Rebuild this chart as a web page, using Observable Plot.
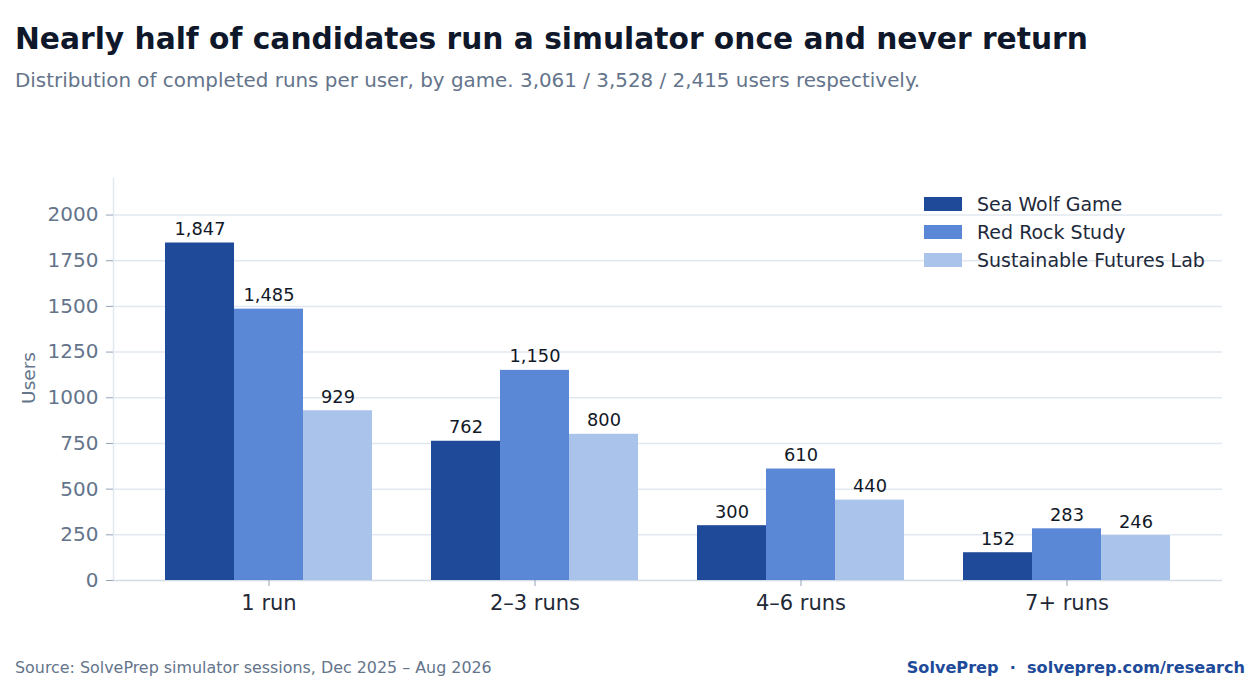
<!DOCTYPE html>
<html><head><meta charset="utf-8">
<script src="https://cdn.jsdelivr.net/npm/d3@7"></script>
<script src="https://cdn.jsdelivr.net/npm/@observablehq/plot@0.6"></script>
<style>
body{margin:0;background:#fff;font-family:"DejaVu Sans",sans-serif;}
#wrap{position:relative;width:1260px;height:690px;overflow:hidden;}
#title{position:absolute;left:15px;top:21px;font-size:29.7px;font-weight:bold;color:#0f172a;white-space:nowrap;}
#subtitle{position:absolute;left:15px;top:69px;font-size:19.9px;color:#64748b;white-space:nowrap;}
#bg,#chart{position:absolute;left:0;top:150px;}
#ylabel{position:absolute;left:28px;top:378px;font-size:18.5px;color:#64748b;transform:translate(-50%,-50%) rotate(-90deg);white-space:nowrap;}
#legend{position:absolute;left:924px;top:190px;}
.row{display:flex;align-items:center;height:28px;}
.sw{width:38px;height:14px;margin-right:15px;}
.lt{font-size:19px;color:#1e293b;white-space:nowrap;}
#src{position:absolute;left:15px;top:658px;font-size:15.9px;color:#64748b;white-space:nowrap;}
#brand{position:absolute;right:15px;top:658px;font-size:16.1px;font-weight:bold;color:#1e4a9a;white-space:pre;}
</style></head><body>
<div id="wrap">
<div id="title">Nearly half of candidates run a simulator once and never return</div>
<div id="subtitle">Distribution of completed runs per user, by game. 3,061 / 3,528 / 2,415 users respectively.</div>
<div id="bg"></div>
<div id="chart"></div>
<div id="ylabel">Users</div>
<div id="legend"></div>
<div id="src">Source: SolvePrep simulator sessions, Dec 2025 – Aug 2026</div>
<div id="brand">SolvePrep  ·  solveprep.com/research</div>
</div>
<script>
const groups = ["1 run", "2–3 runs", "4–6 runs", "7+ runs"];
const series = ["Sea Wolf Game", "Red Rock Study", "Sustainable Futures Lab"];
const seaWolf = [1847, 762, 300, 152];
const redRock = [1485, 1150, 610, 283];
const sustainable = [929, 800, 440, 246];
const colors = ["#1f4a9a", "#5b88d6", "#a9c3ea"];
const yTicks = [0, 250, 500, 750, 1000, 1250, 1500, 1750, 2000];

const seriesValues = [seaWolf, redRock, sustainable];
const data = groups.flatMap((g, i) => series.map((s, j) => ({group: g, series: s, value: seriesValues[j][i]})));

const dims = {width: 1260, height: 480, marginLeft: 113, marginRight: 38, marginTop: 28, marginBottom: 50};
const yScale = {domain: [0, 2200], axis: null};

// Background: y axis, grid, baseline
const bg = Plot.plot({
  ...dims,
  style: {fontFamily: "DejaVu Sans", background: "transparent", overflow: "visible"},
  y: yScale,
  marks: [
    Plot.ruleY(yTicks.slice(1), {stroke: "#e2e8f0", strokeWidth: 1.5}),
    Plot.frame({anchor: "left", stroke: "#e2e8f0", strokeWidth: 1.5}),
    Plot.ruleY([0], {stroke: "#d6dce6", strokeWidth: 1.5}),
    Plot.axisY({ticks: yTicks, tickFormat: "d", tickSize: 7, tickPadding: 8, fontSize: 20, fill: "#64748b", stroke: "#94a3b8", label: null})
  ]
});
document.getElementById("bg").appendChild(bg);

// Foreground: grouped bars
const chart = Plot.plot({
  ...dims,
  style: {fontFamily: "DejaVu Sans", background: "transparent", overflow: "visible"},
  fx: {domain: groups, paddingInner: 0.22, paddingOuter: 0.191, axis: null, label: null},
  x: {domain: series, axis: null, padding: 0},
  y: yScale,
  color: {domain: series, range: colors},
  marks: [
    Plot.axisFx({anchor: "bottom", tickSize: 6, tickPadding: 9, fontSize: 21, fill: "#1f2937", stroke: "#94a3b8", label: null}),
    Plot.barY(data, {fx: "group", x: "series", y: "value", fill: "series"}),
    Plot.text(data, {fx: "group", x: "series", y: "value", text: d => d3.format(",")(d.value), dy: -8, lineAnchor: "bottom", fontSize: 17.8, fill: "#111827"})
  ]
});
document.getElementById("chart").appendChild(chart);

const legend = document.getElementById("legend");
series.forEach((s, i) => {
  const row = document.createElement("div");
  row.className = "row";
  row.innerHTML = `<div class="sw" style="background:${colors[i]}"></div><div class="lt">${s}</div>`;
  legend.appendChild(row);
});
</script>
</body></html>
